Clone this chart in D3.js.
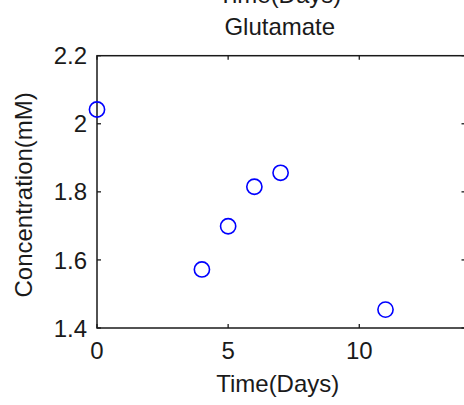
<!DOCTYPE html>
<html>
<head>
<meta charset="utf-8">
<script src="https://cdn.jsdelivr.net/npm/d3@7"></script>
<style>
  html, body { margin: 0; padding: 0; background: #fff; }
  svg { display: block; }
  text { font-family: "Liberation Sans", Arial, sans-serif; fill: #1a1a1a; }
</style>
</head>
<body>
<svg id="chart" width="464" height="405"></svg>
<script>
// Glutamate concentration over time
const days = [0, 4, 5, 6, 7, 11];
const concentration = [2.042, 1.572, 1.699, 1.815, 1.856, 1.454];
const xTicks = [0, 5, 10];
const yTicks = [1.4, 1.6, 1.8, 2.0, 2.2];
const yTickLabels = ["1.4", "1.6", "1.8", "2", "2.2"];
const titleText = "Glutamate";
const topLabel = "Time(Days)";
const xLabel = "Time(Days)";
const yLabel = "Concentration(mM)";

const plotLeft = 97, plotRight = 465.5, plotTop = 55.7, plotBottom = 328;
const fs = 24;

const svg = d3.select("#chart");

const x = d3.scaleLinear().domain([0, 14.05]).range([plotLeft, plotRight]);
const y = d3.scaleLinear().domain([1.4, 2.2]).range([plotBottom, plotTop]);

const tickLen = 4;
const axisColor = "#1a1a1a";

// Frame box
svg.append("rect")
  .attr("x", plotLeft).attr("y", plotTop)
  .attr("width", plotRight - plotLeft).attr("height", plotBottom - plotTop)
  .attr("fill", "none").attr("stroke", axisColor).attr("stroke-width", 1.5);

// Inward ticks on all four sides
const g = svg.append("g").attr("stroke", axisColor).attr("stroke-width", 1.3);
xTicks.forEach(t => {
  g.append("line").attr("x1", x(t)).attr("x2", x(t)).attr("y1", plotBottom).attr("y2", plotBottom - tickLen);
  g.append("line").attr("x1", x(t)).attr("x2", x(t)).attr("y1", plotTop).attr("y2", plotTop + tickLen);
});
yTicks.forEach(t => {
  g.append("line").attr("x1", plotLeft).attr("x2", plotLeft + tickLen).attr("y1", y(t)).attr("y2", y(t));
  g.append("line").attr("x1", plotRight).attr("x2", plotRight - tickLen).attr("y1", y(t)).attr("y2", y(t));
});

// Tick labels
svg.append("g").selectAll("text").data(xTicks).join("text")
  .attr("x", d => x(d)).attr("y", plotBottom + 31)
  .attr("text-anchor", "middle").attr("font-size", fs)
  .text(d => d);

svg.append("g").selectAll("text").data(yTicks).join("text")
  .attr("x", plotLeft - 10).attr("y", d => y(d) + 8.6)
  .attr("text-anchor", "end").attr("font-size", fs)
  .text((d, i) => yTickLabels[i]);

// Titles and axis labels
const cx = (plotLeft + plotRight) / 2 - 1.5;
svg.append("text").attr("x", cx).attr("y", 3)
  .attr("text-anchor", "middle").attr("font-size", fs).text(topLabel);
svg.append("text").attr("x", cx).attr("y", 35)
  .attr("text-anchor", "middle").attr("font-size", fs).text(titleText);
svg.append("text").attr("x", cx - 2) .attr("y", 392)
  .attr("text-anchor", "middle").attr("font-size", fs).text(xLabel);
svg.append("text")
  .attr("transform", `translate(32, ${(plotTop + plotBottom) / 2 + 3}) rotate(-90)`)
  .attr("text-anchor", "middle").attr("font-size", fs).text(yLabel);

// Data markers
svg.append("g").selectAll("circle").data(days).join("circle")
  .attr("cx", d => x(d))
  .attr("cy", (d, i) => y(concentration[i]))
  .attr("r", 7.6)
  .attr("fill", "none")
  .attr("stroke", "#0000ff")
  .attr("stroke-width", 1.6);
</script>
</body>
</html>
